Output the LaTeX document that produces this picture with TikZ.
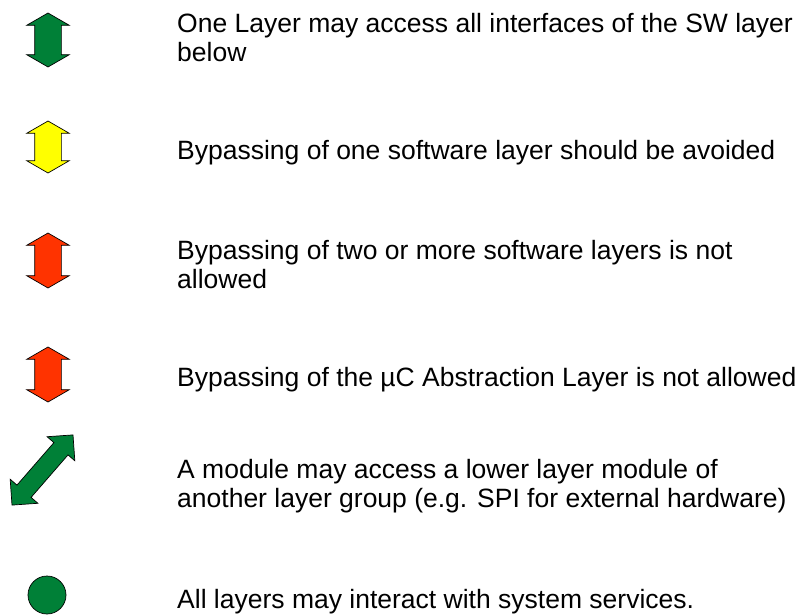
\documentclass[tikz,border=0pt]{standalone}
\usepackage{fontspec}
\setmainfont{Liberation Sans}
\usetikzlibrary{shapes.arrows}
\definecolor{okgreen}{RGB}{0,128,55}
\definecolor{warnyellow}{RGB}{255,255,0}
\definecolor{forbidred}{RGB}{255,51,0}
\tikzset{
  updown/.style={double arrow, rotate=90, draw=black, line width=0.7pt,
    inner sep=0pt, inner ysep=13pt, minimum height=54pt,
    double arrow head extend=8pt, double arrow tip angle=120},
  legend/.style={anchor=base west, align=left, inner sep=0pt,
    font=\fontsize{26.5}{29}\selectfont}
}

\begin{document}
\begin{tikzpicture}[x=1pt,y=-1pt]
\useasboundingbox (0,0) rectangle (811,615);

\node[updown, fill=okgreen] (ok) at (48,40) {};
\node[updown, fill=warnyellow, minimum height=52pt] (avoid) at (48,147) {};
\node[updown, fill=forbidred, minimum height=55pt] (twolayers) at (48,260.5) {};
\node[updown, fill=forbidred, minimum height=55pt] (muc) at (48,374.5) {};
\node[double arrow, rotate=49, draw=black, line width=0.7pt, fill=okgreen,
      inner sep=0pt, inner ysep=9pt, minimum height=93pt,
      double arrow head extend=9pt, double arrow tip angle=90] (cross) at (42.5,470) {};
\node[circle, draw=black, line width=0.7pt, fill=okgreen, inner sep=0pt,
      minimum size=38pt] (services) at (47,595) {};

\node[legend] (ok-text) at (177,61.7) {One Layer may access all interfaces of the SW layer\\below};
\node[legend] (avoid-text) at (177,160) {Bypassing of one software layer should be avoided};
\node[legend] (twolayers-text) at (177,288) {Bypassing of two or more software layers is not\\allowed};
\node[legend] (muc-text) at (177,386) {Bypassing of the µC Abstraction Layer is not allowed};
\node[legend] (cross-text) at (177,507) {A module may access a lower layer module of\\another layer group (e.g. SPI for external hardware)};
\node[legend] (services-text) at (177,608) {All layers may interact with system services.};
\end{tikzpicture}
\end{document}
